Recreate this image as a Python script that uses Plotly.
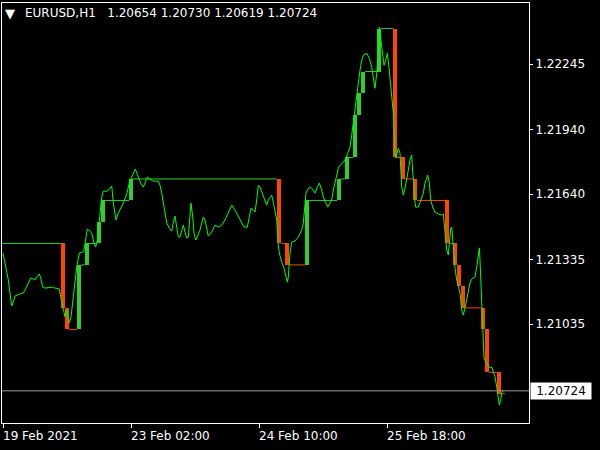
import plotly.graph_objects as go

# ---------------- data ----------------
# close-price line: time in H1 bars from the first visible bar, price
price_t = [
    0, 0.93, 1.33, 1.75, 2.18, 2.58, 3, 4.25, 5.08, 5.5,
    6.33, 6.93, 7.58, 8, 8.43, 9.08, 9.43, 9.93, 10.5, 11.75,
    12.58, 13, 14.08, 14.43, 15.08, 15.5, 15.93, 16.33, 16.58, 17,
    17.58, 18, 18.43, 19.08, 19.93, 20.25, 20.75, 21.08, 21.75, 22.18,
    22.75, 23.18, 23.58, 24.08, 24.43, 24.68, 25.08, 26.08, 26.75, 27.18,
    27.58, 28, 28.25, 28.83, 30.08, 30.93, 31.58, 32.18, 32.58, 33.08,
    33.83, 34.43, 35.08, 35.5, 36.08, 36.75, 37.58, 38.83, 39.25, 39.68,
    40.08, 40.5, 40.93, 41.58, 42.18, 42.58, 43, 43.43, 43.83, 44.25,
    44.68, 45.08, 45.5, 45.93, 46.33, 46.75, 47, 47.43, 47.75, 48.18,
    48.58, 49.25, 49.68, 50.08, 50.5, 50.93, 51.33, 52.18, 53, 53.83,
    54.68, 55.5, 56.33, 57.18, 58, 58.83, 59.68, 60.25, 61.08, 61.5,
    62, 62.58, 63, 63.43, 63.83, 64.25, 64.93, 65.5, 65.93, 66.33,
    66.75, 67.18, 67.58, 68, 68.43, 68.83, 69.08, 69.68, 70.25, 70.75,
    71.08, 71.33, 71.75, 72.18, 73, 73.83, 74.68, 75.08, 75.33, 75.75,
    76.33, 76.93, 77.58, 78, 78.58, 79.08, 79.68, 80.08, 80.75, 81.18,
    81.75, 82.18, 82.58, 83, 83.43, 83.83, 84.25, 85.08, 85.75, 86.33,
    86.75, 87.18, 87.58, 88, 88.43, 88.83, 89.25, 89.68, 90.08, 90.93,
    91.58, 92.18, 92.58, 93, 93.43, 93.83, 94.08, 94.5, 94.93, 95.25,
    95.68, 96.08, 96.5, 96.93, 97.33, 97.58, 98, 98.25, 98.83, 99.25,
    99.68, 100.08, 100.5, 100.93, 101.33, 101.75, 102.18, 102.43, 102.75, 103,
    103.18, 103.83, 104.25, 104.68, 105.08, 105.5, 105.93, 106.18, 106.58, 106.93,
    107.43, 108, 108.83, 109.43, 110.08, 110.33, 110.68, 110.93, 111.33, 111.58,
    111.93, 112.18, 112.43, 112.75, 113, 113.43, 113.83, 114.25, 114.68, 115.08,
    115.5, 115.93, 116.33, 116.75, 117.18, 118, 118.43, 118.83, 119.08, 119.25,
    119.5, 119.68, 119.93, 120.25, 120.75, 121.75, 122.18, 122.58, 123, 123.43,
    123.83, 124.08, 124.43, 124.68, 125.08,
]
price_v = [
    1.21365, 1.21286, 1.21240, 1.21179, 1.21119, 1.21137, 1.21165, 1.21175, 1.21179, 1.21193,
    1.21226, 1.21249, 1.21244, 1.21240, 1.21254, 1.21268, 1.21249, 1.21207, 1.21202, 1.21207,
    1.21207, 1.21202, 1.21198, 1.21161, 1.21100, 1.21068, 1.21100, 1.21068, 1.21040, 1.21068,
    1.21161, 1.21254, 1.21300, 1.21365, 1.21370, 1.21379, 1.21449, 1.21477, 1.21467, 1.21458,
    1.21412, 1.21393, 1.21426, 1.21505, 1.21588, 1.21626, 1.21653, 1.21653, 1.21667, 1.21677,
    1.21598, 1.21533, 1.21519, 1.21551, 1.21598, 1.21640, 1.21691, 1.21719, 1.21737, 1.21756,
    1.21719, 1.21691, 1.21672, 1.21695, 1.21719, 1.21709, 1.21700, 1.21700, 1.21681, 1.21644,
    1.21598, 1.21551, 1.21505, 1.21481, 1.21467, 1.21509, 1.21537, 1.21486, 1.21440, 1.21440,
    1.21472, 1.21495, 1.21463, 1.21435, 1.21440, 1.21551, 1.21598, 1.21533, 1.21458, 1.21426,
    1.21440, 1.21472, 1.21505, 1.21533, 1.21519, 1.21472, 1.21444, 1.21463, 1.21495, 1.21486,
    1.21495, 1.21519, 1.21556, 1.21588, 1.21565, 1.21533, 1.21505, 1.21486, 1.21486, 1.21533,
    1.21574, 1.21565, 1.21556, 1.21612, 1.21681, 1.21672, 1.21635, 1.21612, 1.21588, 1.21612,
    1.21626, 1.21635, 1.21602, 1.21565, 1.21519, 1.21402, 1.21365, 1.21323, 1.21295, 1.21254,
    1.21230, 1.21254, 1.21365, 1.21416, 1.21421, 1.21440, 1.21472, 1.21505, 1.21551, 1.21644,
    1.21667, 1.21672, 1.21658, 1.21644, 1.21672, 1.21691, 1.21658, 1.21626, 1.21598, 1.21579,
    1.21598, 1.21612, 1.21658, 1.21695, 1.21719, 1.21760, 1.21774, 1.21788, 1.21807, 1.21835,
    1.21858, 1.21914, 1.21974, 1.22053, 1.22109, 1.22160, 1.22216, 1.22263, 1.22286, 1.22295,
    1.22272, 1.22230, 1.22184, 1.22132, 1.22202, 1.22300, 1.22416, 1.22356, 1.22295, 1.22239,
    1.22263, 1.22295, 1.22230, 1.22156, 1.22077, 1.22016, 1.21830, 1.21807, 1.21853, 1.21830,
    1.21672, 1.21635, 1.21667, 1.21705, 1.21751, 1.21798, 1.21821, 1.21737, 1.21691, 1.21602,
    1.21579, 1.21579, 1.21598, 1.21621, 1.21644, 1.21691, 1.21719, 1.21728, 1.21691, 1.21612,
    1.21579, 1.21556, 1.21547, 1.21542, 1.21547, 1.21495, 1.21440, 1.21379, 1.21356, 1.21426,
    1.21481, 1.21486, 1.21426, 1.21347, 1.21295, 1.21240, 1.21207, 1.21179, 1.21100, 1.21077,
    1.21109, 1.21147, 1.21184, 1.21226, 1.21244, 1.21254, 1.21300, 1.21365, 1.21388, 1.21333,
    1.21207, 1.21100, 1.20993, 1.20877, 1.20854, 1.20830, 1.20835, 1.20812, 1.20789, 1.20742,
    1.20691, 1.20658, 1.20682, 1.20714, 1.20728,
]

# step indicator: starting level, bars where the level changes, and new levels
step_start_level = 1.2141
step_bars = [15, 16, 19, 21, 24, 25, 32, 69, 71, 76, 84, 86, 88, 89, 90, 94,
             98, 100, 103, 111, 113, 114, 115, 120, 121, 124]
step_levels = [1.2111, 1.2101, 1.2131, 1.2141, 1.2151, 1.2161, 1.2171, 1.2141,
               1.2131, 1.2161, 1.2171, 1.2181, 1.2201, 1.2211, 1.2221, 1.2241,
               1.2181, 1.2171, 1.2161, 1.2141, 1.2131, 1.2121, 1.2111, 1.2101,
               1.2081, 1.2071]
last_bar = 125

current_price = 1.20724
header_text = "EURUSD,H1\u00a0\u00a0 1.20654 1.20730 1.20619 1.20724"

y_tick_vals = [1.21035, 1.21335, 1.21640, 1.21940, 1.22245]
y_tick_text = ["1.21035", "1.21335", "1.21640", "1.21940", "1.22245"]
x_tick_vals = [0, 32, 64, 96]
x_tick_text = ["19 Feb 2021", "23 Feb 02:00", "24 Feb 10:00", "25 Feb 18:00"]

X_RANGE = [-0.25, 131.5]
Y_RANGE = [1.205743, 1.225289]

GREEN = "#32CD32"
ORANGE = "#FF4500"
LINE_GREEN = "#00FF00"
FONT = "DejaVu Sans"

# ---------------- figure ----------------
fig = go.Figure()

# horizontal level segments
seg = {GREEN: ([], []), ORANGE: ([], [])}
gx, gy = seg[GREEN]
gx += [X_RANGE[0], step_bars[0] - 0.5, None]
gy += [step_start_level, step_start_level, None]
prev = step_start_level
for k, (b, lv) in enumerate(zip(step_bars, step_levels)):
    col = GREEN if lv > prev else ORANGE
    end = step_bars[k + 1] - 0.5 if k + 1 < len(step_bars) else last_bar + 0.5
    if end > b + 0.5:
        sx, sy = seg[col]
        sx += [b + 0.5, end, None]
        sy += [lv, lv, None]
    prev = lv
for col, (sx, sy) in seg.items():
    fig.add_trace(go.Scatter(x=sx, y=sy, mode="lines",
                             line=dict(color=col, width=1), hoverinfo="skip"))

# thick step bars
bx, bbase, bh, bcol = [], [], [], []
prev = step_start_level
for b, lv in zip(step_bars, step_levels):
    bx.append(b)
    bbase.append(prev)
    bh.append(lv - prev)
    bcol.append(GREEN if lv > prev else ORANGE)
    prev = lv
fig.add_trace(go.Bar(x=bx, y=bh, base=bbase, width=1,
                     marker=dict(color=bcol, line=dict(width=0))))

# price line
fig.add_trace(go.Scatter(x=price_t, y=price_v, mode="lines",
                         line=dict(color=LINE_GREEN, width=1)))

# current price line
fig.add_shape(type="line", xref="paper", x0=0, x1=1, yref="y",
              y0=current_price, y1=current_price,
              line=dict(color="#9A9A9A", width=1))

annotations = []
for v, t in zip(x_tick_vals, x_tick_text):
    annotations.append(dict(x=v, xref="x", y=0, yref="paper", text=t,
                            xanchor="left", yanchor="top", yshift=-4,
                            xshift=-2, showarrow=False,
                            font=dict(family=FONT, size=12, color="white")))
annotations.append(dict(x=1, xref="paper", y=current_price, yref="y",
                        text=f"{current_price:.5f}", xanchor="left",
                        yanchor="middle", xshift=1, showarrow=False,
                        bgcolor="white", borderpad=1, width=58,
                        font=dict(family=FONT, size=12, color="black")))
annotations.append(dict(x=0, xref="paper", y=1, yref="paper", text="\u25BC",
                        xanchor="left", yanchor="middle", xshift=1, yshift=-10,
                        showarrow=False,
                        font=dict(family=FONT, size=13, color="white")))
annotations.append(dict(x=0, xref="paper", y=1, yref="paper", text=header_text,
                        xanchor="left", yanchor="middle", xshift=21, yshift=-10,
                        showarrow=False,
                        font=dict(family=FONT, size=12, color="white")))

fig.update_layout(
    width=600, height=450,
    paper_bgcolor="black", plot_bgcolor="black",
    margin=dict(l=2, r=71, t=3, b=27, pad=0),
    showlegend=False, bargap=0, barmode="overlay",
    annotations=annotations,
    xaxis=dict(range=X_RANGE, showgrid=False, zeroline=False,
               showline=True, mirror=True, linecolor="white", linewidth=1,
               tickvals=x_tick_vals, ticks="outside", ticklen=4,
               tickcolor="white", tickwidth=1, showticklabels=False,
               fixedrange=True),
    yaxis=dict(range=Y_RANGE, side="right", showgrid=False, zeroline=False,
               showline=True, mirror=True, linecolor="white", linewidth=1,
               tickvals=y_tick_vals, ticktext=y_tick_text, ticks="outside",
               ticklen=3, tickcolor="white", tickwidth=1,
               tickfont=dict(family=FONT, size=12, color="white"),
               fixedrange=True),
)

fig.write_html(
    "out.html",
    config={"displayModeBar": False},
    post_script="document.body.style.margin='0';document.body.style.background='black';",
)
